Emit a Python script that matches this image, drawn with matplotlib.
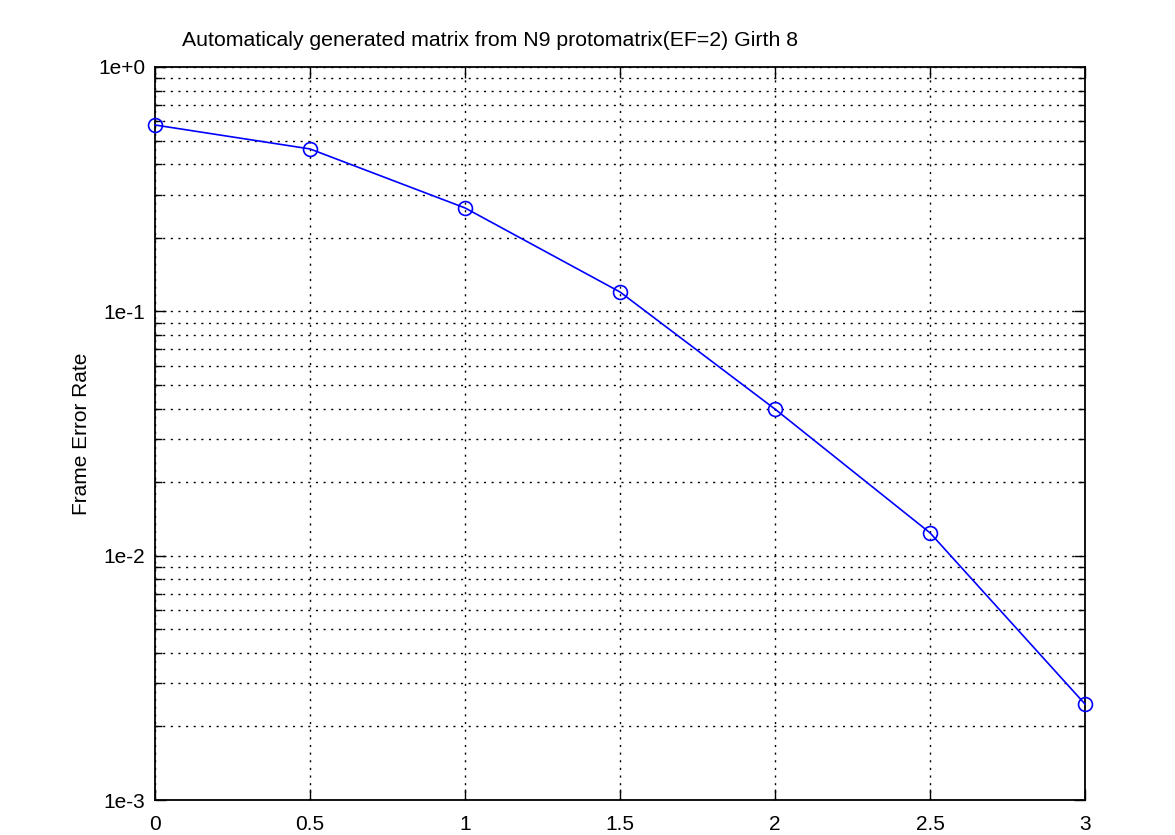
import numpy as np
import matplotlib
matplotlib.use('Agg')
import matplotlib.pyplot as plt
from matplotlib.ticker import LogLocator, NullFormatter, FixedLocator

# Eb/No (dB) e taxa de erro de quadro
snr = [0, 0.5, 1, 1.5, 2, 2.5, 3]
fer = [0.579, 0.462, 0.265, 0.12, 0.0398, 0.0124, 0.00247]

y_ticks = [1e0, 1e-1, 1e-2, 1e-3]
y_labels = ['1e+0', '1e-1', '1e-2', '1e-3']
x_ticks = [0, 0.5, 1, 1.5, 2, 2.5, 3]
x_labels = ['0', '0.5', '1', '1.5', '2', '2.5', '3']

plt.rcParams['font.family'] = ['Liberation Sans', 'DejaVu Sans']

fig = plt.figure(figsize=(11.75, 8.35), dpi=100)
ax = fig.add_axes([155 / 1175, 1 - 800 / 835, 930 / 1175, 733 / 835])

ax.semilogy(snr, fer, color='#0000ff', marker='o', markersize=10,
            markerfacecolor='none', markeredgewidth=1.2, linewidth=1.2,
            clip_on=False, zorder=5)

ax.set_xlim(0, 3)
ax.set_ylim(1e-3, 1e0)

ax.set_xticks(x_ticks)
ax.set_xticklabels(x_labels, fontsize=15)
ax.yaxis.set_major_locator(FixedLocator(y_ticks))
ax.set_yticklabels(y_labels, fontsize=15)
ax.yaxis.set_minor_locator(LogLocator(base=10, subs=np.arange(2, 10), numticks=20))
ax.yaxis.set_minor_formatter(NullFormatter())

ax.tick_params(which='both', direction='in', top=True, right=True)
ax.tick_params(axis='y', pad=7)
ax.tick_params(axis='x', pad=11)
ax.tick_params(which='major', length=8, width=1)
ax.tick_params(which='minor', length=5, width=1)

ax.grid(True, which='major', axis='both', color='black', linestyle=(0, (1.5, 4)), linewidth=1)
ax.grid(True, which='minor', axis='y', color='black', linestyle=(0, (1.5, 4)), linewidth=1)

for s in ax.spines.values():
    s.set_linewidth(1.3)

ax.set_ylabel('Frame Error Rate', fontsize=15, labelpad=5)
fig.text(490 / 1175, 1 - 40 / 835, 'Automaticaly generated matrix from N9 protomatrix(EF=2) Girth 8',
         ha='center', va='center', fontsize=15.3)

plt.savefig('out.png', format='png')
plt.close(fig)
